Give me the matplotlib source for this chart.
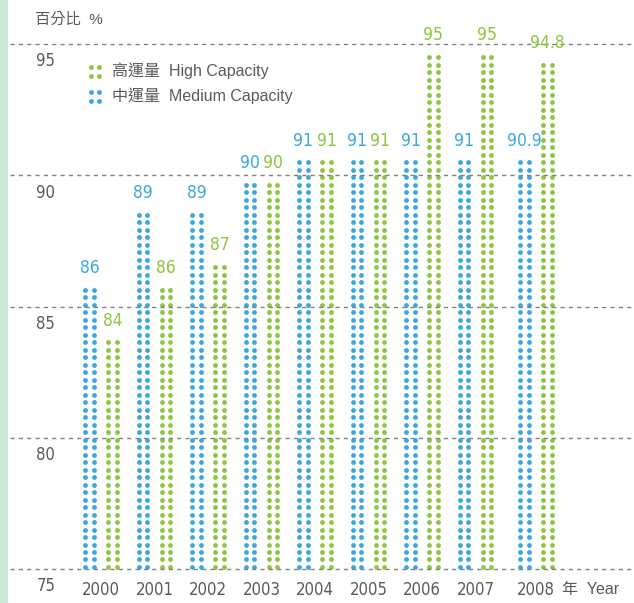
import numpy as np
import matplotlib
matplotlib.use("Agg")
import matplotlib.pyplot as plt
from matplotlib.patches import Rectangle

years = ["2000", "2001", "2002", "2003", "2004", "2005", "2006", "2007", "2008"]
medium = [86, 89, 89, 90, 91, 91, 91, 91, 90.9]
high = [84, 86, 87, 90, 91, 91, 95, 95, 94.8]
yticks = [75, 80, 85, 90, 95]

BLUE = "#3aa8e0"
GREEN = "#8cc63f"
GREY = "#5a5a5a"
NUM = dict(family="DejaVu Sans", stretch="condensed")
CJK_FONT = ["Liberation Sans", "Noto Sans CJK TC", "DejaVu Sans"]

W, H = 634, 603
fig = plt.figure(figsize=(W / 100, H / 100), dpi=100)

# overlay in pixel units for the decorations
deco = fig.add_axes([0, 0, 1, 1])
deco.set_xlim(0, W)
deco.set_ylim(H, 0)
deco.axis("off")
deco.add_patch(Rectangle((0, 0), 8, H, color="#cbe7d6", lw=0))

# main axes: 75 at px 569, 95 at px 44
top_px, bot_px = 44, 569
ax = fig.add_axes([10 / W, (H - bot_px) / H, 624 / W, (bot_px - top_px) / H])
ax.set_ylim(75, 95)
px_unit = 53.5
ax.set_xlim(-91 / px_unit, (W - 101) / px_unit)
ax.axis("off")

y_per_px = 20 / (bot_px - top_px)
step = 7.5 * y_per_px
base = 75 + 2 * y_per_px  # lowest dot sits just above the 75 line
col_dx = 4.2 / px_unit
bar_dx = 11.5 / px_unit

x = np.arange(len(years), dtype=float)
x[-1] += 0.13  # slightly wider gap before 2008

for yv in yticks:
    ax.axhline(yv, color="#808080", lw=1, ls=(0, (3, 3)), clip_on=False)
    ax.annotate(str(yv), (-1.03, yv), xytext=(0, -12.5), textcoords="offset points",
                ha="center", va="center", fontsize=12, color=GREY,
                annotation_clip=False, **NUM)


def dot_bar(xc, v, color):
    n = int((v - 0.3 - base) / step) + 1
    ys = base + step * np.arange(n)
    for dx in (-col_dx, col_dx):
        ax.scatter(np.full(n, xc + dx), ys, s=12, color=color, lw=0, clip_on=False)
    ax.annotate(f"{v:g}", (xc, ys[-1]), xytext=(0, 9), textcoords="offset points",
                ha="center", va="bottom", fontsize=12.5, color=color,
                annotation_clip=False, **NUM)


for xi, m, h in zip(x, medium, high):
    dot_bar(xi - bar_dx, m, BLUE)
    dot_bar(xi + bar_dx, h, GREEN)

for xi, yr in zip(x, years):
    ax.annotate(yr, (xi, 75), xytext=(0, -15), textcoords="offset points",
                ha="center", va="center", fontsize=12, color=GREY,
                annotation_clip=False, **NUM)
ax.annotate("年  Year", ((562 - 101) / px_unit, 75), xytext=(0, -15),
            textcoords="offset points", ha="left", va="center", fontsize=11.5,
            color=GREY, family=CJK_FONT, annotation_clip=False)

# header and legend
deco.text(35, 20, "百分比  %", ha="left", va="center", fontsize=11, color=GREY,
          family=CJK_FONT)
for ly, color, label in [(71, GREEN, "高運量  High Capacity"),
                         (96, BLUE, "中運量  Medium Capacity")]:
    deco.scatter([91, 99, 91, 99], [ly - 4.5, ly - 4.5, ly + 4.5, ly + 4.5],
                 s=12, color=color, lw=0)
    deco.text(112, ly, label, ha="left", va="center", fontsize=11.5,
              color=GREY, family=CJK_FONT)

fig.savefig("out.png", dpi=100)
